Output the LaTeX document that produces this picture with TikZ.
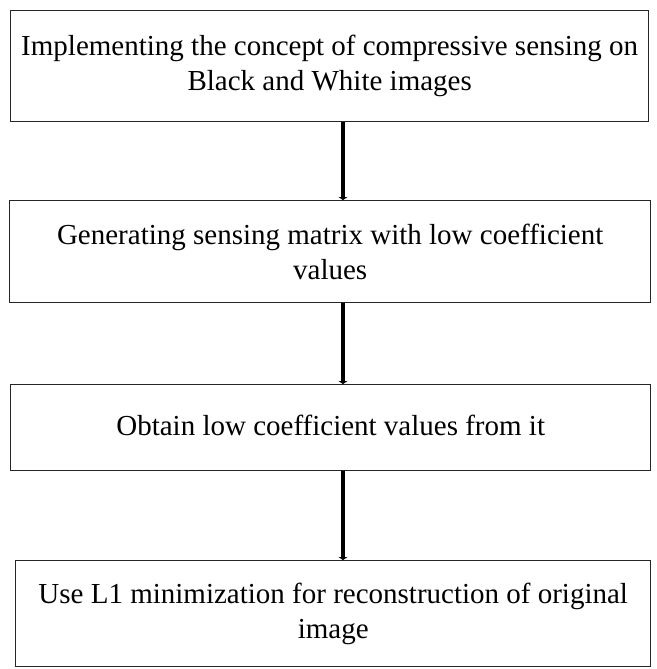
\documentclass[tikz,border=0pt]{standalone}
\usepackage{fontspec}
\setmainfont{Liberation Serif}
\usetikzlibrary{arrows.meta}

\tikzset{
  flowbox/.style={rectangle, draw=black!85, line width=1.4pt, fill=white,
    anchor=north west, align=center, inner sep=0pt,
    font=\fontsize{29}{35}\selectfont},
  flowlink/.style={line width=4.5pt, black,
    -{Triangle[length=3pt,width=9pt]}}
}

\begin{document}
\begin{tikzpicture}[x=1pt,y=-1pt]
  \useasboundingbox[fill=white] (0,0) rectangle (656,669);
  % steps of the flow
  \node[flowbox, minimum width=638pt, minimum height=111pt] (impl) at (10,10)
    {Implementing the concept of compressive sensing on\\ Black and White images};
  \node[flowbox, minimum width=641pt, minimum height=102pt] (gen) at (9,200)
    {Generating sensing matrix with low coefficient\\ values};
  \node[flowbox, minimum width=640pt, minimum height=86pt] (obtain) at (10,384)
    {\raisebox{5pt}{Obtain low coefficient values from it}};
  \node[flowbox, minimum width=635pt, minimum height=106pt] (recon) at (15,560)
    {Use L1 minimization for reconstruction of original\\ image};
  % connectors
  \coordinate (axis) at (343,0);
  \draw[flowlink] (axis |- impl.south) -- (axis |- gen.north);
  \draw[flowlink] (axis |- gen.south) -- (axis |- obtain.north);
  \draw[flowlink] (axis |- obtain.south) -- (axis |- recon.north);
\end{tikzpicture}
\end{document}
